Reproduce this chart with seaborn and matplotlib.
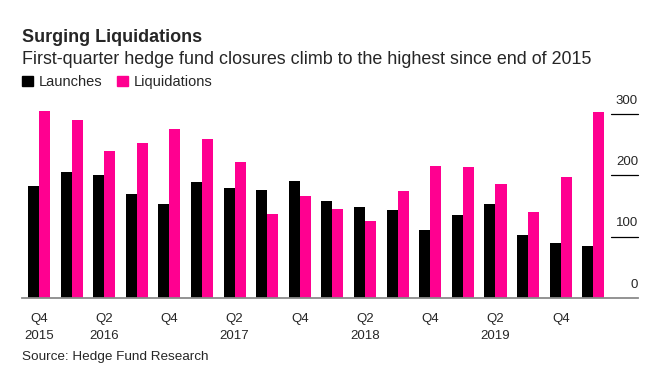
import matplotlib
matplotlib.use("Agg")
import matplotlib.pyplot as plt
from matplotlib.patches import Patch
import seaborn as sns
import pandas as pd

# data
quarters = ["Q4 2015", "Q1 2016", "Q2 2016", "Q3 2016", "Q4 2016", "Q1 2017",
            "Q2 2017", "Q3 2017", "Q4 2017", "Q1 2018", "Q2 2018", "Q3 2018",
            "Q4 2018", "Q1 2019", "Q2 2019", "Q3 2019", "Q4 2019", "Q1 2020"]
launches = [183, 205, 200, 170, 153, 189, 179, 176, 191, 158, 148, 143,
            111, 135, 153, 103, 90, 85]
liquidations = [305, 290, 240, 253, 276, 259, 222, 137, 166, 145, 126, 175,
                215, 214, 186, 140, 197, 303]
tick_labels = ["Q4\n2015", "Q2\n2016", "Q4", "Q2\n2017", "Q4", "Q2\n2018",
               "Q4", "Q2\n2019", "Q4"]
y_ticks = [0, 100, 200, 300]

BLACK = "#000000"
PINK = "#ff0090"

df = pd.DataFrame({
    "quarter": quarters * 2,
    "value": launches + liquidations,
    "series": ["Launches"] * len(quarters) + ["Liquidations"] * len(quarters),
})

sns.set_style("white")
plt.rcParams["font.family"] = ["Liberation Sans", "DejaVu Sans"]

fig = plt.figure(figsize=(6.57, 3.73), dpi=100)
ax = fig.add_axes([22 / 657, 75 / 373, 616 / 657, 190 / 373])

sns.barplot(data=df, x="quarter", y="value", hue="series",
            palette=[BLACK, PINK], width=0.675, saturation=1,
            linewidth=0, legend=False, ax=ax)

ax.set_xlim(-0.52, 18.37)
ax.set_ylim(0, 310)
ax.set_xlabel("")
ax.set_ylabel("")

for s in ["top", "right", "left"]:
    ax.spines[s].set_visible(False)
ax.spines["bottom"].set_color("#8a8a8a")
ax.spines["bottom"].set_linewidth(1.3)

ax.set_xticks(range(0, len(quarters), 2))
ax.set_xticklabels(tick_labels, fontsize=9.5)
for lab in ax.get_xticklabels():
    lab.set_linespacing(1.55)
ax.tick_params(axis="x", length=4, width=1, color="#333333", pad=7)
ax.set_yticks([])

# right-hand value scale: short lines with labels sitting above
ytr = ax.get_yaxis_transform()
for v in y_ticks:
    if v > 0:
        ax.plot([0.956, 1.0], [v, v], transform=ytr, color="black",
                lw=0.9, clip_on=False)
    ax.text(1.0, v + 12, str(v), transform=ytr, ha="right", va="bottom",
            fontsize=9.5)

fig.text(22 / 657, 1 - 38 / 373, "Surging Liquidations", fontsize=13,
         fontweight="bold", va="center")
fig.text(22 / 657, 1 - 59 / 373,
         "First-quarter hedge fund closures climb to the highest since end of 2015",
         fontsize=12.9, va="center")
fig.text(22 / 657, 1 - 357 / 373, "Source: Hedge Fund Research",
         fontsize=9.7, va="center")

handles = [Patch(color=BLACK, label="Launches"),
           Patch(color=PINK, label="Liquidations")]
fig.legend(handles=handles, loc="center left",
           bbox_to_anchor=(16 / 657, 1 - 82 / 373), ncol=2, frameon=False,
           fontsize=10.5, handlelength=0.75, handleheight=0.75,
           handletextpad=0.4, columnspacing=1.0, borderaxespad=0)

fig.savefig("out.png", dpi=100)
